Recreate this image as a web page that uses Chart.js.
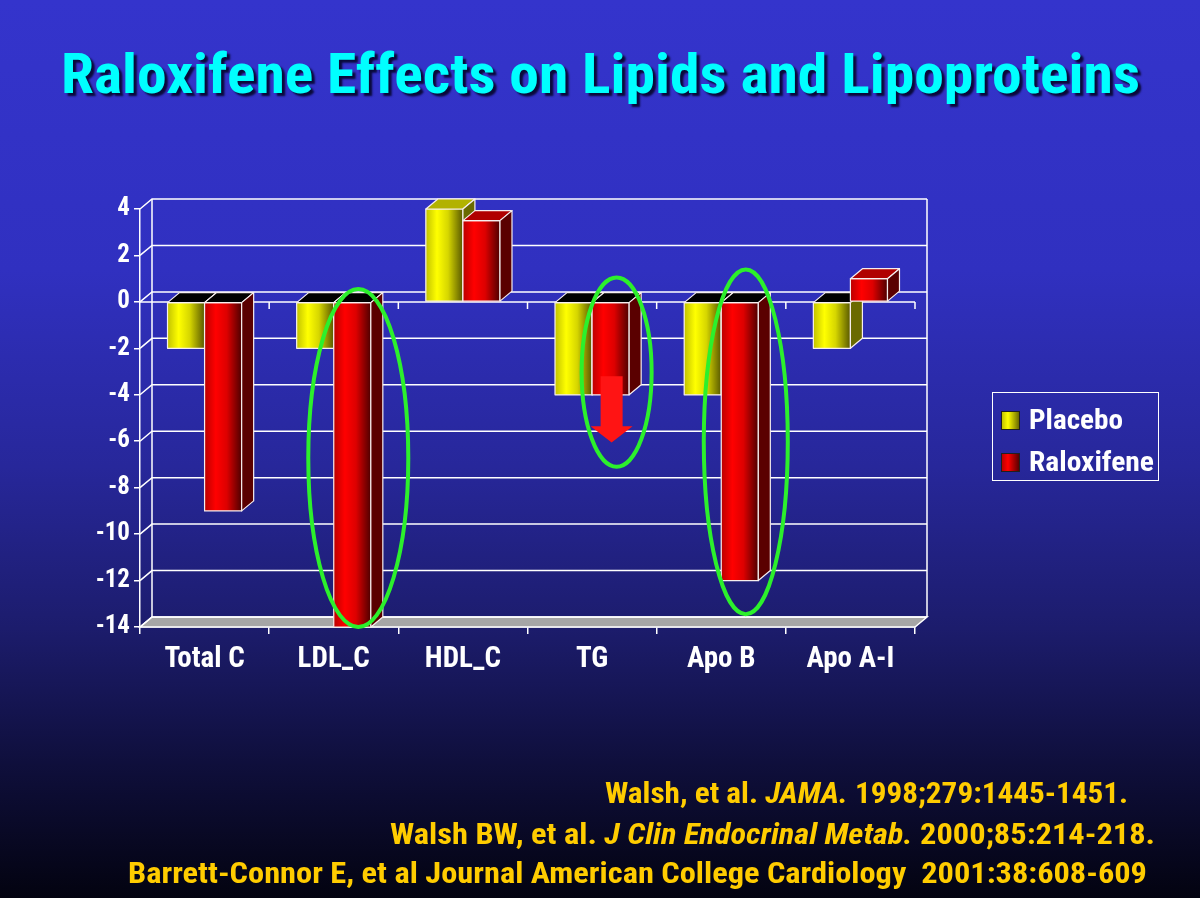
<!DOCTYPE html>
<html>
<head>
<meta charset="utf-8">
<script src="https://cdn.jsdelivr.net/npm/chart.js@4/dist/chart.umd.min.js"></script>
<style>
html, body { margin: 0; padding: 0; }
body {
  width: 1200px; height: 898px; position: relative; overflow: hidden;
  background: linear-gradient(to bottom, #3434cc 0%, #3030c0 30%, #27279a 52%, #1c1c6c 70%, #0f0f3c 85%, #030310 100%);
  font-family: 'Roboto Condensed', 'Liberation Sans', Arial, sans-serif;
  font-weight: bold;
}
#chart { position: absolute; left: 0; top: 0; }
.fit { position: absolute; white-space: nowrap; transform-origin: 0 0; }
#title {
  left: 61px; top: 47px; font-size: 55px; line-height: 55px; color: #00ffff;
  text-shadow: 3px 3px 2px #0a0a3a;
}
#legend {
  position: absolute; left: 992px; top: 392px; width: 165px; height: 87px;
  border: 1.5px solid #ffffff; color: #ffffff; font-size: 28px;
}
#legend .row { position: absolute; left: 8px; height: 28px; line-height: 28px; }
#legend .sw { position: absolute; left: 0; top: 5px; width: 17px; height: 17px; border: 1px solid #202020; }
#legend .txt { left: 28px; top: 0; }
.ref { color: #ffcc00; font-size: 29px; line-height: 29px; }
.ref i { font-style: italic; }
</style>
</head>
<body>
<div id="title" class="fit" data-w="1079">Raloxifene Effects on Lipids and Lipoproteins</div>
<canvas id="chart" width="1200" height="898"></canvas>
<div id="legend"></div>
<div class="ref fit" data-w="523" style="left:605px; top:779px;">Walsh, et al. <i>JAMA.</i> 1998;279:1445-1451.</div>
<div class="ref fit" data-w="765" style="left:390px; top:820px;">Walsh BW, et al. <i>J Clin Endocrinal Metab.</i> 2000;85:214-218.</div>
<div class="ref fit" data-w="1019" style="left:128px; top:859px;">Barrett-Connor E, et al Journal American College Cardiology&nbsp; 2001:38:608-609</div>
<script>
// datos del grafico
const categories = ["Total C", "LDL_C", "HDL_C", "TG", "Apo B", "Apo A-I"];
const placebo = [-2, -2, 4, -4, -4, -2];
const raloxifene = [-9, -14, 3.5, -4, -12, 1];
const seriesNames = ["Placebo", "Raloxifene"];
const yTicks = [4, 2, 0, -2, -4, -6, -8, -10, -12, -14];

// marcas verdes (en unidades del eje y)
const highlights = [
  { category: "LDL_C", top: 0.55, bottom: -14, rx: 50 },
  { category: "TG", top: 1.05, bottom: -7.1, rx: 35 },
  { category: "Apo B", top: 1.4, bottom: -13.45, rx: 42 },
];
// flecha roja en TG
const arrow = { category: "TG", from: -3.2, neck: -5.36, to: -6.05 };

const DX = 12, DY = 10;

const faces = [
  { front: [[0, "#c2c200"], [0.3, "#ffff00"], [0.6, "#d6d600"], [1, "#585800"]], top: "#b2b200", side: "#6a6a00", sw: "linear-gradient(to right,#c2c200,#ffff00 35%,#6a6a00)" },
  { front: [[0, "#bb0000"], [0.3, "#ff0000"], [0.6, "#dd0000"], [1, "#4e0000"]], top: "#b00000", side: "#5a0000", sw: "linear-gradient(to right,#bb0000,#ff0000 35%,#5a0000)" },
];
const legendWidths = [94, 125];

// leyenda
const legend = document.getElementById("legend");
seriesNames.forEach((name, i) => {
  const row = document.createElement("div");
  row.className = "row";
  row.style.top = (13 + i * 42) + "px";
  row.innerHTML = '<div class="sw" style="background:' + faces[i].sw + '"></div><div class="txt fit" data-w="' + legendWidths[i] + '">' + name + "</div>";
  legend.appendChild(row);
});

// ajustar el ancho de los textos (fuente condensada distinta)
function fitTexts() {
  document.querySelectorAll(".fit").forEach((el) => {
    el.style.transform = "none";
    const w = el.getBoundingClientRect().width;
    if (w > 0) el.style.transform = "scaleX(" + (Number(el.dataset.w) / w) + ")";
  });
}
fitTexts();
if (document.fonts) document.fonts.ready.then(fitTexts);

function hGrad(ctx, l, r, stops) {
  const g = ctx.createLinearGradient(l, 0, r, 0);
  stops.forEach(([o, c]) => g.addColorStop(o, c));
  return g;
}
function poly(ctx, pts, fill) {
  ctx.beginPath();
  ctx.moveTo(pts[0][0], pts[0][1]);
  for (let i = 1; i < pts.length; i++) ctx.lineTo(pts[i][0], pts[i][1]);
  ctx.closePath();
  ctx.fillStyle = fill;
  ctx.fill();
  ctx.stroke();
}

const bars3d = {
  id: "bars3d",
  beforeDatasetsDraw(chart) {
    const { ctx, chartArea: a, scales: { x, y } } = chart;
    ctx.save();
    ctx.strokeStyle = "#ffffff";
    ctx.lineWidth = 1.5;
    // suelo
    poly(ctx, [[a.left, a.bottom], [a.right, a.bottom], [a.right + DX, a.bottom - DY], [a.left + DX, a.bottom - DY]], "#a6a6a6");
    // pared del fondo
    yTicks.forEach((v) => {
      const py = y.getPixelForValue(v);
      ctx.beginPath();
      ctx.moveTo(a.left, py);
      ctx.lineTo(a.left + DX, py - DY);
      ctx.lineTo(a.right + DX, py - DY);
      ctx.stroke();
    });
    ctx.beginPath();
    ctx.moveTo(a.left + DX, a.top - DY);
    ctx.lineTo(a.left + DX, a.bottom - DY);
    ctx.moveTo(a.right + DX, a.top - DY);
    ctx.lineTo(a.right + DX, a.bottom - DY);
    ctx.stroke();
    // linea del cero
    const y0 = y.getPixelForValue(0);
    const half = (x.getPixelForValue(1) - x.getPixelForValue(0)) / 2;
    ctx.beginPath();
    ctx.moveTo(a.left, y0);
    ctx.lineTo(a.right, y0);
    categories.forEach((c, i) => {
      const px = x.getPixelForValue(i) + half;
      ctx.moveTo(px, y0);
      ctx.lineTo(px, y0 + 7);
    });
    ctx.stroke();
    ctx.restore();
  },
  afterDatasetsDraw(chart) {
    const ctx = chart.ctx;
    ctx.save();
    ctx.lineWidth = 1.2;
    ctx.strokeStyle = "#f6eeee";
    ctx.lineJoin = "round";
    categories.forEach((c, i) => {
      chart.data.datasets.forEach((ds, d) => {
        const el = chart.getDatasetMeta(d).data[i];
        const L = el.x - el.width / 2, R = el.x + el.width / 2;
        const top = Math.min(el.y, el.base), bot = Math.max(el.y, el.base);
        const f = faces[d];
        ctx.fillStyle = hGrad(ctx, L, R, f.front);
        ctx.fillRect(L, top, R - L, bot - top);
        ctx.strokeRect(L, top, R - L, bot - top);
        poly(ctx, [[L, top], [R, top], [R + DX, top - DY], [L + DX, top - DY]], ds.data[i] < 0 ? "#000000" : f.top);
        poly(ctx, [[R, top], [R + DX, top - DY], [R + DX, bot - DY], [R, bot]], f.side);
      });
    });
    ctx.restore();
  },
  afterDraw(chart) {
    const { ctx, scales: { y } } = chart;
    const meta = chart.getDatasetMeta(1);
    ctx.save();
    // flecha
    const ea = meta.data[categories.indexOf(arrow.category)];
    const ax = ea.x + 1;
    const y1 = y.getPixelForValue(arrow.from), y2 = y.getPixelForValue(arrow.neck), y3 = y.getPixelForValue(arrow.to);
    ctx.fillStyle = "#ff1414";
    ctx.beginPath();
    ctx.moveTo(ax - 11, y1); ctx.lineTo(ax + 11, y1); ctx.lineTo(ax + 11, y2); ctx.lineTo(ax + 21, y2);
    ctx.lineTo(ax, y3); ctx.lineTo(ax - 21, y2); ctx.lineTo(ax - 11, y2);
    ctx.closePath();
    ctx.fill();
    // elipses
    ctx.strokeStyle = "#2cf02c";
    ctx.lineWidth = 4;
    highlights.forEach((h) => {
      const el = meta.data[categories.indexOf(h.category)];
      const t = y.getPixelForValue(h.top), b = y.getPixelForValue(h.bottom);
      ctx.beginPath();
      ctx.ellipse(el.x + DX / 2, (t + b) / 2, h.rx, (b - t) / 2, 0, 0, Math.PI * 2);
      ctx.stroke();
    });
    ctx.restore();
  },
};

const font = "'Roboto Condensed', 'Liberation Sans', Arial, sans-serif";

new Chart(document.getElementById("chart"), {
  type: "bar",
  data: {
    labels: categories,
    datasets: [
      { label: seriesNames[0], data: placebo, backgroundColor: "#ffff00" },
      { label: seriesNames[1], data: raloxifene, backgroundColor: "#ff0000" },
    ],
  },
  options: {
    responsive: false,
    animation: false,
    categoryPercentage: 0.574,
    barPercentage: 1,
    layout: { padding: { left: 80, right: 285, top: 209, bottom: 221 } },
    plugins: { legend: { display: false }, tooltip: { enabled: false } },
    scales: {
      x: {
        afterFit: (s) => { s.height = 50; },
        grid: { offset: true, drawOnChartArea: false, color: "#ffffff", lineWidth: 1.5, tickLength: 7 },
        border: { color: "#ffffff", width: 1.5 },
        ticks: { color: "#ffffff", padding: 8, font: { family: font, size: 29, weight: "bold" } },
      },
      y: {
        min: -14,
        max: 4,
        afterFit: (s) => { s.width = 60; },
        afterBuildTicks: (s) => { s.ticks = yTicks.map((v) => ({ value: v })); },
        grid: { drawOnChartArea: false, color: "#ffffff", lineWidth: 1.5, tickLength: 6 },
        border: { color: "#ffffff", width: 1.5 },
        ticks: { color: "#ffffff", padding: 4, font: { family: font, size: 25, weight: "bold" } },
      },
    },
  },
  plugins: [bars3d],
});
</script>
</body>
</html>
